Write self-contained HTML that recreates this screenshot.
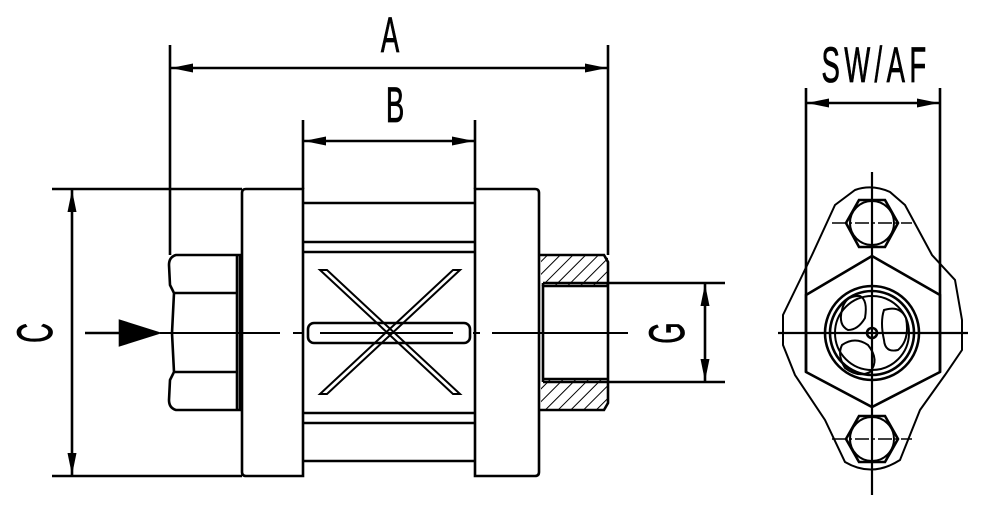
<!DOCTYPE html>
<html><head><meta charset="utf-8"><style>html,body{margin:0;padding:0;background:#fff}svg{display:block}</style></head>
<body>
<svg width="984" height="517" viewBox="0 0 984 517" xmlns="http://www.w3.org/2000/svg">
<defs>
<marker id="ar" viewBox="0 0 22 9" refX="22" refY="4.5" markerWidth="22" markerHeight="9" markerUnits="userSpaceOnUse" orient="auto-start-reverse"><path d="M0,0 L22,4.5 L0,9 Z" fill="#000"/></marker>
<pattern id="hatch" patternUnits="userSpaceOnUse" width="9" height="9" patternTransform="rotate(45)"><line x1="0" y1="0" x2="0" y2="9" stroke="#000" stroke-width="2"/></pattern>
</defs>
<g fill="none" stroke="#000" stroke-width="2.6">
<line x1="170" y1="45" x2="170" y2="255"/>
<line x1="608" y1="45" x2="608" y2="255"/>
<line x1="171" y1="68" x2="607" y2="68" marker-start="url(#ar)" marker-end="url(#ar)"/>
<line x1="303" y1="120" x2="303" y2="189"/>
<line x1="475" y1="120" x2="475" y2="189"/>
<line x1="304" y1="141" x2="474" y2="141" marker-start="url(#ar)" marker-end="url(#ar)"/>
<line x1="52" y1="189" x2="242" y2="189"/>
<line x1="52" y1="476" x2="242" y2="476"/>
<line x1="72" y1="190" x2="72" y2="475" marker-start="url(#ar)" marker-end="url(#ar)"/>
<line x1="608" y1="283" x2="725" y2="283"/>
<line x1="608" y1="382" x2="725" y2="382"/>
<line x1="705" y1="284" x2="705" y2="381" marker-start="url(#ar)" marker-end="url(#ar)"/>
<line x1="85" y1="333" x2="120" y2="333"/>
<path d="M120,321 L158,333 L120,345 Z" fill="#000"/>
<path d="M176,255 L240,255 L240,410 L176,410 Q169,408 169,400 L170,380 L174,372 L172,333 L174,293 L170,285 L169,265 Q169,257 176,255 Z"/>
<line x1="175" y1="293" x2="237" y2="293"/>
<line x1="175" y1="372" x2="237" y2="372"/>
<line x1="237" y1="255" x2="237" y2="410"/>
<path d="M246,189 L303,189 L303,476 L246,476 Q242,476 242,472 L242,193 Q242,189 246,189 Z"/>
<line x1="303" y1="203" x2="475" y2="203"/>
<line x1="303" y1="242" x2="475" y2="242"/>
<line x1="303" y1="252" x2="475" y2="252"/>
<line x1="303" y1="413" x2="475" y2="413"/>
<line x1="303" y1="423" x2="475" y2="423"/>
<line x1="303" y1="461" x2="475" y2="461"/>
<path d="M475,189 L535,189 Q539,189 539,193 L539,472 Q539,476 535,476 L475,476 Z"/>
<rect x="541" y="255" width="67" height="31" fill="url(#hatch)" stroke="none"/>
<rect x="541" y="380" width="67" height="30" fill="url(#hatch)" stroke="none"/>
<path d="M539,255 L604,255 L608,262 L608,403 L604,410 L539,410"/>
<line x1="543" y1="283" x2="608" y2="283"/>
<line x1="543" y1="286" x2="608" y2="286"/>
<line x1="543" y1="379" x2="608" y2="379"/>
<line x1="543" y1="382" x2="608" y2="382"/>
<line x1="543" y1="283" x2="543" y2="382"/>
<rect x="308" y="323" width="162" height="20" rx="6"/>
<path d="M320,270 L327,270 L460,394 L453,394 Z" stroke-width="2"/>
<path d="M460,270 L453,270 L320,394 L327,394 Z" stroke-width="2"/>
<path d="M160,333 H280 M293,333 H303 M320,333 H453 M473,333 H480 M492,333 H628" stroke-width="2"/>
</g>
<g fill="none" stroke="#000" stroke-width="2.6">
<line x1="806" y1="88" x2="806" y2="372"/>
<line x1="940" y1="88" x2="940" y2="372"/>
<line x1="807" y1="103" x2="939" y2="103" marker-start="url(#ar)" marker-end="url(#ar)"/>
<path d="M855,190 Q872,184 890,192 L905,205 L932,255 L955,280 L962,320 L962,350 L945,375 L920,410 L900,460 Q872,478 845,462 L825,420 L795,375 L783,345 L783,315 L800,280 L812,255 L835,205 Z" stroke-width="2"/>
<path d="M872,256 L940,295 L940,372 L872,407 L806,372 L806,295 Z"/>
<circle cx="872" cy="333" r="47"/>
<circle cx="872" cy="333" r="42"/>
<circle cx="872" cy="333" r="37" stroke-width="2"/>
<circle cx="872" cy="333" r="5"/>
<path d="M842,310 Q845,295 860,296 Q868,300 865,318 Q858,330 848,330 Q838,325 842,310 Z" stroke-width="2"/>
<path d="M884,310 Q900,305 906,318 Q910,340 898,350 Q885,353 884,340 Q880,322 884,310 Z" stroke-width="2"/>
<path d="M842,345 Q855,336 868,345 Q880,360 870,372 Q858,378 845,368 Q837,355 842,345 Z" stroke-width="2"/>
<path d="M859,200 L885,200 L898,223 L885,247 L859,247 L846,223 Z"/>
<circle cx="872" cy="223" r="22" stroke-width="2"/>
<path d="M859,416 L885,416 L898,439 L885,462 L859,462 L846,439 Z"/>
<circle cx="872" cy="439" r="22" stroke-width="2"/>
<line x1="778" y1="333" x2="968" y2="333" stroke-width="2.2"/>
<line x1="872" y1="172" x2="872" y2="495" stroke-width="2.2"/>
<line x1="832" y1="223" x2="912" y2="223" stroke-width="1.5" stroke-dasharray="14,3,3,3"/>
<line x1="832" y1="439" x2="912" y2="439" stroke-width="1.5" stroke-dasharray="14,3,3,3"/>
</g>
<g font-family="Liberation Sans, sans-serif" font-size="50" fill="#000" stroke="#000" stroke-width="0.8">
<text x="0" y="0" text-anchor="middle" transform="translate(390 52) scale(0.55 1)">A</text>
<text x="0" y="0" text-anchor="middle" transform="translate(395 122) scale(0.55 1)">B</text>
<text x="0" y="0" text-anchor="middle" letter-spacing="8" transform="translate(876 82) scale(0.55 1)">SW/AF</text>
<text x="0" y="0" text-anchor="middle" transform="translate(52 333) rotate(-90) scale(0.55 1)">C</text>
<text x="0" y="0" text-anchor="middle" transform="translate(684 333) rotate(-90) scale(0.55 1)">G</text>
</g>
</svg>
</body></html>
